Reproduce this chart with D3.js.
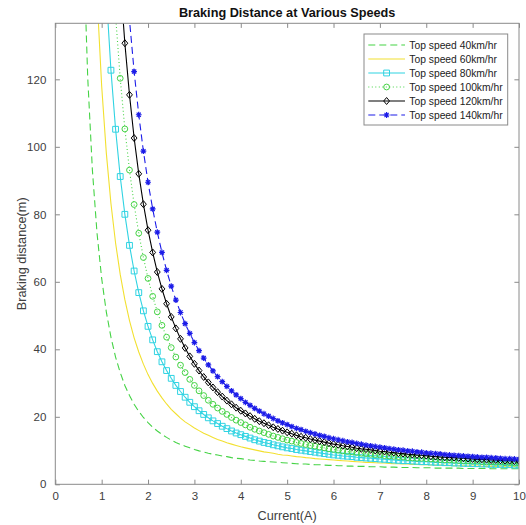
<!DOCTYPE html>
<html>
<head>
<meta charset="utf-8">
<script src="https://cdn.jsdelivr.net/npm/d3@7"></script>
<style>
  body { margin: 0; background: #fff; }
  svg { font-family: "Liberation Sans", Arial, sans-serif; }
</style>
</head>
<body>
<div id="chart"></div>
<script>
// current (A), sampled every 0.1 A
const currents = [
  0.6, 0.7, 0.8, 0.9, 1.0, 1.1, 1.2, 1.3, 1.4, 1.5, 1.6, 1.7, 1.8, 1.9, 2.0,
  2.1, 2.2, 2.3, 2.4, 2.5, 2.6, 2.7, 2.8, 2.9, 3.0, 3.1, 3.2, 3.3, 3.4, 3.5,
  3.6, 3.7, 3.8, 3.9, 4.0, 4.1, 4.2, 4.3, 4.4, 4.5, 4.6, 4.7, 4.8, 4.9, 5.0,
  5.1, 5.2, 5.3, 5.4, 5.5, 5.6, 5.7, 5.8, 5.9, 6.0, 6.1, 6.2, 6.3, 6.4, 6.5,
  6.6, 6.7, 6.8, 6.9, 7.0, 7.1, 7.2, 7.3, 7.4, 7.5, 7.6, 7.7, 7.8, 7.9, 8.0,
  8.1, 8.2, 8.3, 8.4, 8.5, 8.6, 8.7, 8.8, 8.9, 9.0, 9.1, 9.2, 9.3, 9.4, 9.5,
  9.6, 9.7, 9.8, 9.9, 10.0
]

// braking distance (m) for each top speed
const dist40 = [
  162.3, 120.3, 93.1, 74.4, 61.0, 51.1, 43.6, 37.7, 33.1, 29.3, 26.3, 23.7, 21.6, 19.8, 18.3,
  16.9, 15.8, 14.8, 13.9, 13.1, 12.4, 11.8, 11.3, 10.8, 10.3, 9.9, 9.6, 9.2, 8.9, 8.7,
  8.4, 8.2, 7.9, 7.7, 7.6, 7.4, 7.2, 7.1, 6.9, 6.8, 6.7, 6.6, 6.5, 6.4, 6.3,
  6.2, 6.1, 6.0, 6.0, 5.9, 5.8, 5.8, 5.7, 5.6, 5.6, 5.5, 5.5, 5.4, 5.4, 5.3,
  5.3, 5.3, 5.2, 5.2, 5.2, 5.1, 5.1, 5.1, 5.0, 5.0, 5.0, 5.0, 4.9, 4.9, 4.9,
  4.9, 4.8, 4.8, 4.8, 4.8, 4.8, 4.8, 4.7, 4.7, 4.7, 4.7, 4.7, 4.7, 4.6, 4.6,
  4.6, 4.6, 4.6, 4.6, 4.6
]
const dist60 = [
  320.7, 236.7, 182.1, 144.7, 118.0, 98.2, 83.2, 71.5, 62.2, 54.7, 48.5, 43.4, 39.2, 35.6, 32.5,
  29.9, 27.6, 25.6, 23.8, 22.2, 20.9, 19.6, 18.5, 17.6, 16.7, 15.9, 15.1, 14.5, 13.9, 13.3,
  12.8, 12.3, 11.9, 11.5, 11.1, 10.8, 10.5, 10.2, 9.9, 9.6, 9.4, 9.2, 8.9, 8.7, 8.6,
  8.4, 8.2, 8.1, 7.9, 7.8, 7.6, 7.5, 7.4, 7.3, 7.2, 7.1, 7.0, 6.9, 6.8, 6.7,
  6.6, 6.5, 6.5, 6.4, 6.3, 6.3, 6.2, 6.1, 6.1, 6.0, 6.0, 5.9, 5.9, 5.8, 5.8,
  5.7, 5.7, 5.7, 5.6, 5.6, 5.5, 5.5, 5.5, 5.4, 5.4, 5.4, 5.3, 5.3, 5.3, 5.3,
  5.2, 5.2, 5.2, 5.2, 5.1
]
const dist80 = [
  479.0, 353.0, 271.2, 215.1, 175.0, 145.3, 122.7, 105.2, 91.2, 80.0, 70.8, 63.2, 56.8, 51.4, 46.8,
  42.8, 39.3, 36.3, 33.7, 31.4, 29.3, 27.5, 25.8, 24.3, 23.0, 21.8, 20.7, 19.7, 18.8, 18.0,
  17.2, 16.5, 15.8, 15.2, 14.7, 14.2, 13.7, 13.2, 12.8, 12.4, 12.1, 11.7, 11.4, 11.1, 10.8,
  10.6, 10.3, 10.1, 9.9, 9.7, 9.5, 9.3, 9.1, 8.9, 8.7, 8.6, 8.4, 8.3, 8.2, 8.0,
  7.9, 7.8, 7.7, 7.6, 7.5, 7.4, 7.3, 7.2, 7.1, 7.0, 7.0, 6.9, 6.8, 6.7, 6.7,
  6.6, 6.5, 6.5, 6.4, 6.4, 6.3, 6.3, 6.2, 6.2, 6.1, 6.1, 6.0, 6.0, 5.9, 5.9,
  5.9, 5.8, 5.8, 5.7, 5.7
]
const dist100 = [
  637.3, 469.3, 360.2, 285.5, 232.0, 192.4, 162.3, 138.9, 120.3, 105.3, 93.1, 82.9, 74.4, 67.2, 61.0,
  55.7, 51.1, 47.1, 43.6, 40.5, 37.7, 35.3, 33.1, 31.1, 29.3, 27.7, 26.3, 24.9, 23.7, 22.6,
  21.6, 20.7, 19.8, 19.0, 18.3, 17.6, 16.9, 16.3, 15.8, 15.3, 14.8, 14.3, 13.9, 13.5, 13.1,
  12.8, 12.4, 12.1, 11.8, 11.5, 11.3, 11.0, 10.8, 10.5, 10.3, 10.1, 9.9, 9.7, 9.6, 9.4,
  9.2, 9.1, 8.9, 8.8, 8.7, 8.5, 8.4, 8.3, 8.2, 8.1, 7.9, 7.8, 7.7, 7.7, 7.6,
  7.5, 7.4, 7.3, 7.2, 7.2, 7.1, 7.0, 6.9, 6.9, 6.8, 6.8, 6.7, 6.6, 6.6, 6.5,
  6.5, 6.4, 6.4, 6.3, 6.3
]
const dist120 = [
  795.7, 585.7, 449.3, 355.9, 289.0, 239.6, 201.9, 172.7, 149.4, 130.7, 115.4, 102.6, 92.0, 83.0, 75.3,
  68.7, 62.9, 57.9, 53.5, 49.6, 46.2, 43.1, 40.4, 37.9, 35.7, 33.7, 31.8, 30.2, 28.7, 27.3,
  26.0, 24.8, 23.7, 22.7, 21.8, 21.0, 20.2, 19.4, 18.7, 18.1, 17.5, 16.9, 16.4, 15.9, 15.4,
  15.0, 14.5, 14.1, 13.8, 13.4, 13.1, 12.8, 12.5, 12.2, 11.9, 11.7, 11.4, 11.2, 11.0, 10.7,
  10.5, 10.4, 10.2, 10.0, 9.8, 9.7, 9.5, 9.4, 9.2, 9.1, 8.9, 8.8, 8.7, 8.6, 8.5,
  8.3, 8.2, 8.1, 8.0, 7.9, 7.9, 7.8, 7.7, 7.6, 7.5, 7.4, 7.4, 7.3, 7.2, 7.2,
  7.1, 7.0, 7.0, 6.9, 6.9
]
const dist140 = [
  954.0, 702.0, 538.4, 426.2, 346.0, 286.7, 241.5, 206.4, 178.5, 156.0, 137.6, 122.3, 109.5, 98.7, 89.5,
  81.6, 74.7, 68.7, 63.4, 58.7, 54.6, 50.9, 47.6, 44.7, 42.0, 39.6, 37.4, 35.4, 33.6, 31.9,
  30.4, 29.0, 27.7, 26.5, 25.4, 24.3, 23.4, 22.5, 21.7, 20.9, 20.2, 19.5, 18.8, 18.2, 17.7,
  17.1, 16.6, 16.2, 15.7, 15.3, 14.9, 14.5, 14.2, 13.8, 13.5, 13.2, 12.9, 12.6, 12.4, 12.1,
  11.9, 11.6, 11.4, 11.2, 11.0, 10.8, 10.6, 10.4, 10.2, 10.1, 9.9, 9.8, 9.6, 9.5, 9.3,
  9.2, 9.1, 9.0, 8.8, 8.7, 8.6, 8.5, 8.4, 8.3, 8.2, 8.1, 8.0, 8.0, 7.9, 7.8,
  7.7, 7.6, 7.6, 7.5, 7.4
]

const seriesNames = [
  "Top speed 40km/hr", "Top speed 60km/hr", "Top speed 80km/hr",
  "Top speed 100km/hr", "Top speed 120km/hr", "Top speed 140km/hr"
]
const xTicks = [0, 1, 2, 3, 4, 5, 6, 7, 8, 9, 10]
const yTicks = [0, 20, 40, 60, 80, 100, 120]
const yMax = 136.6

const series = [
  { name: seriesNames[0], values: dist40, color: "#45d345", dash: "7,4", marker: null },
  { name: seriesNames[1], values: dist60, color: "#f2e030", dash: null, marker: null },
  { name: seriesNames[2], values: dist80, color: "#2fd3e2", dash: null, marker: "square" },
  { name: seriesNames[3], values: dist100, color: "#45d345", dash: "1,2.5", marker: "circle" },
  { name: seriesNames[4], values: dist120, color: "#000000", dash: null, marker: "diamond" },
  { name: seriesNames[5], values: dist140, color: "#1c1ce8", dash: "7,4", marker: "star" }
]

const width = 526
const height = 525
const margin = { top: 23.3, right: 7, bottom: 40.7, left: 55.3 }
const axisColor = "#8a8a8a"
const textColor = "#404040"
const tickLen = 4.6
const markerR = 2.9

const svg = d3.select("#chart")
  .append("svg")
  .attr("width", width)
  .attr("height", height)

const x = d3.scaleLinear()
  .domain([0, 10])
  .range([margin.left, width - margin.right])

const y = d3.scaleLinear()
  .domain([0, yMax])
  .range([height - margin.bottom, margin.top])

svg.append("defs").append("clipPath")
  .attr("id", "plot-clip")
  .append("rect")
  .attr("x", margin.left)
  .attr("y", margin.top)
  .attr("width", width - margin.left - margin.right)
  .attr("height", height - margin.top - margin.bottom)

// marker shapes, centred on 0,0
function markerPath(type, r) {
  if (type === "square") {
    return `M${-r},${-r}H${r}V${r}H${-r}Z`
  }
  if (type === "circle") {
    return `M${r},0A${r},${r} 0 1,1 ${-r},0A${r},${r} 0 1,1 ${r},0Z`
  }
  if (type === "diamond") {
    const h = r * 1.2
    return `M0,${-h}L${r},0L0,${h}L${-r},0Z`
  }
  if (type === "star") {
    const d = r * 0.72
    return `M${-r},0H${r}M0,${-r}V${r}M${-d},${-d}L${d},${d}M${-d},${d}L${d},${-d}`
  }
  return ""
}

function drawMarkers(g, type, color, points, r) {
  g.selectAll("path.marker")
    .data(points)
    .join("path")
    .attr("class", "marker")
    .attr("d", markerPath(type, r))
    .attr("transform", d => `translate(${d[0]},${d[1]})`)
    .attr("fill", "none")
    .attr("stroke", color)
    .attr("stroke-width", type === "star" ? 1.2 : 1)
}

const plot = svg.append("g").attr("clip-path", "url(#plot-clip)")

const line = d3.line()
  .x(d => x(d[0]))
  .y(d => y(d[1]))

series.forEach(s => {
  const pts = currents.map((c, i) => [c, s.values[i]])
  plot.append("path")
    .datum(pts)
    .attr("d", line)
    .attr("fill", "none")
    .attr("stroke", s.color)
    .attr("stroke-width", 1.1)
    .attr("stroke-dasharray", s.dash)

  if (s.marker) {
    const g = plot.append("g")
    const visible = pts.filter(d => d[1] <= yMax + 2)
      .map(d => [x(d[0]), y(d[1])])
    drawMarkers(g, s.marker, s.color, visible, markerR)
  }
})

// axes box with inward ticks on all four sides
const axes = svg.append("g")

axes.append("rect")
  .attr("x", margin.left)
  .attr("y", margin.top)
  .attr("width", width - margin.left - margin.right)
  .attr("height", height - margin.top - margin.bottom)
  .attr("fill", "none")
  .attr("stroke", axisColor)
  .attr("stroke-width", 1)

const xAxisBottom = d3.axisBottom(x).tickValues(xTicks).tickSize(-tickLen).tickPadding(8)
const xAxisTop = d3.axisTop(x).tickValues(xTicks).tickSize(-tickLen).tickFormat("")
const yAxisLeft = d3.axisLeft(y).tickValues(yTicks).tickSize(-tickLen).tickPadding(9)
const yAxisRight = d3.axisRight(y).tickValues(yTicks).tickSize(-tickLen).tickFormat("")

function styleAxis(g) {
  g.select(".domain").remove()
  g.selectAll(".tick line").attr("stroke", axisColor)
  g.selectAll(".tick text")
    .attr("fill", textColor)
    .style("font-size", "11.5px")
    .style("font-family", "'Liberation Sans', Arial, sans-serif")
}

axes.append("g")
  .attr("transform", `translate(0,${height - margin.bottom})`)
  .call(xAxisBottom)
  .call(styleAxis)

axes.append("g")
  .attr("transform", `translate(0,${margin.top})`)
  .call(xAxisTop)
  .call(styleAxis)

axes.append("g")
  .attr("transform", `translate(${margin.left},0)`)
  .call(yAxisLeft)
  .call(styleAxis)

axes.append("g")
  .attr("transform", `translate(${width - margin.right},0)`)
  .call(yAxisRight)
  .call(styleAxis)

// title and axis labels
svg.append("text")
  .attr("x", (margin.left + width - margin.right) / 2)
  .attr("y", 17.3)
  .attr("text-anchor", "middle")
  .attr("fill", "#111")
  .style("font-size", "12.7px")
  .style("font-weight", "bold")
  .text("Braking Distance at Various Speeds")

svg.append("text")
  .attr("x", (margin.left + width - margin.right) / 2)
  .attr("y", 519.5)
  .attr("text-anchor", "middle")
  .attr("fill", textColor)
  .style("font-size", "12.7px")
  .text("Current(A)")

svg.append("text")
  .attr("transform", `translate(26,${(margin.top + height - margin.bottom) / 2}) rotate(-90)`)
  .attr("text-anchor", "middle")
  .attr("fill", textColor)
  .style("font-size", "12.7px")
  .text("Braking distance(m)")

// legend
const legend = svg.append("g").attr("transform", "translate(364,34)")

legend.append("rect")
  .attr("width", 143.7)
  .attr("height", 91)
  .attr("fill", "#fff")
  .attr("stroke", axisColor)
  .attr("stroke-width", 1)

series.forEach((s, i) => {
  const row = legend.append("g").attr("transform", `translate(0,${11 + i * 14})`)
  row.append("line")
    .attr("x1", 4.3)
    .attr("x2", 41)
    .attr("stroke", s.color)
    .attr("stroke-width", 1.1)
    .attr("stroke-dasharray", s.dash)
  if (s.marker) {
    const mg = row.append("g")
    drawMarkers(mg, s.marker, s.color, [[22.6, 0]], markerR)
  }
  row.append("text")
    .attr("x", 45.3)
    .attr("y", 3.6)
    .attr("fill", "#222")
    .style("font-size", "10.3px")
    .text(s.name)
})
</script>
</body>
</html>
